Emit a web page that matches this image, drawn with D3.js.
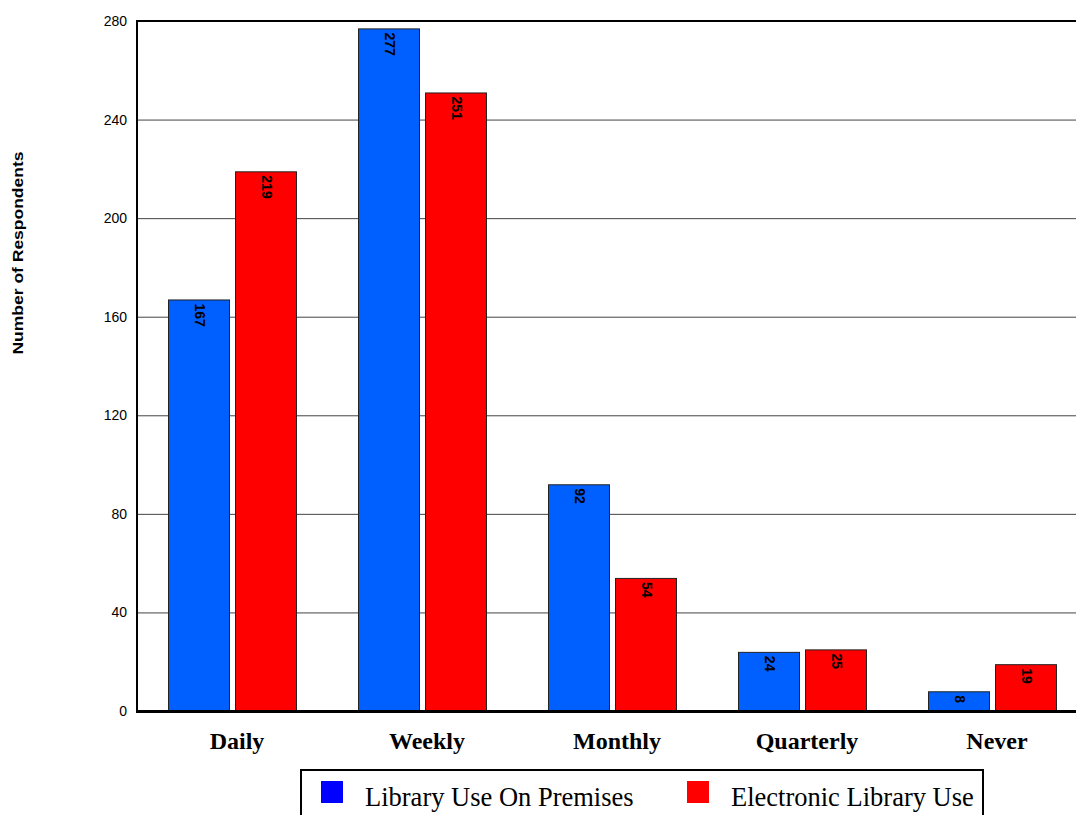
<!DOCTYPE html>
<html>
<head>
<script src="https://d3js.org/d3.v7.min.js"></script>
<style>
    body { margin: 0; background: #fff; }
    svg { display: block; }
</style>
</head>
<body>
<svg width="1076" height="815"></svg>
<script>
    // chart data
    var categories = ["Daily", "Weekly", "Monthly", "Quarterly", "Never"];
    var seriesNames = ["Library Use On Premises", "Electronic Library Use"];
    var premises = [167, 277, 92, 24, 8];
    var electronic = [219, 251, 54, 25, 19];
    var yTicks = [0, 40, 80, 120, 160, 200, 240, 280];

    var barColors = ["#0060ff", "#ff0000"];
    var legendColors = ["#0000ff", "#ff0000"];

    var svg = d3.select("svg");

    var y = d3.scaleLinear().domain([0, 280]).range([711, 21]);

    var x0 = d3.scaleBand()
        .domain(categories)
        .range([137, 1087])
        .paddingInner(0)
        .paddingOuter(0);

    var x1 = d3.scaleBand()
        .domain(seriesNames)
        .range([0, x0.bandwidth()])
        .paddingInner(0.09)
        .paddingOuter(0.463);

    var rows = categories.map(function(c, i) {
        return { cat: c, vals: [premises[i], electronic[i]] };
    });

    // gridlines
    svg.append("g")
        .selectAll("line")
        .data(yTicks.filter(function(d) { return d > 0 && d < 280; }))
        .enter().append("line")
        .attr("x1", 137)
        .attr("x2", 1076)
        .attr("y1", function(d) { return y(d) + 0.5; })
        .attr("y2", function(d) { return y(d) + 0.5; })
        .attr("stroke", "#444")
        .attr("stroke-width", 1);

    // top line
    svg.append("line")
        .attr("x1", 137).attr("x2", 1076)
        .attr("y1", y(280)).attr("y2", y(280))
        .attr("stroke", "#000")
        .attr("stroke-width", 2);

    // bars
    var groups = svg.append("g")
        .selectAll("g")
        .data(rows)
        .enter().append("g")
        .attr("transform", function(d) { return "translate(" + x0(d.cat) + ",0)"; });

    var cells = groups.selectAll("g")
        .data(function(d) {
            return d.vals.map(function(v, i) { return { key: seriesNames[i], value: v, i: i }; });
        })
        .enter().append("g");

    cells.append("rect")
        .attr("x", function(d) { return x1(d.key) + 0.5; })
        .attr("y", function(d) { return y(d.value) + 0.5; })
        .attr("width", x1.bandwidth())
        .attr("height", function(d) { return y(0) - y(d.value); })
        .attr("fill", function(d) { return barColors[d.i]; })
        .attr("stroke", "#222")
        .attr("stroke-width", 1);

    cells.append("text")
        .attr("transform", function(d) {
            return "translate(" + (x1(d.key) + x1.bandwidth() / 2 + 1) + "," + (y(d.value) + 4) + ") rotate(90)";
        })
        .attr("dy", "0.35em")
        .attr("text-anchor", "start")
        .attr("font-family", "Arial, 'Liberation Sans', sans-serif")
        .attr("font-weight", "bold")
        .attr("font-size", "14px")
        .attr("fill", "#000")
        .text(function(d) { return d.value; });

    // y axis
    var yAxis = svg.append("g")
        .attr("transform", "translate(137,0)")
        .call(d3.axisLeft(y).tickValues(yTicks).tickSize(0).tickPadding(10));
    yAxis.select(".domain").remove();
    yAxis.selectAll("text")
        .attr("font-family", "Arial, 'Liberation Sans', sans-serif")
        .attr("font-size", "14px")
        .attr("fill", "#000");

    svg.append("line")
        .attr("x1", 137).attr("x2", 137)
        .attr("y1", 20).attr("y2", 712)
        .attr("stroke", "#000")
        .attr("stroke-width", 2);

    // x axis
    svg.append("line")
        .attr("x1", 136).attr("x2", 1076)
        .attr("y1", 711.5).attr("y2", 711.5)
        .attr("stroke", "#000")
        .attr("stroke-width", 3);

    var xAxis = svg.append("g")
        .attr("transform", "translate(5,711)")
        .call(d3.axisBottom(x0).tickSize(0).tickPadding(21));
    xAxis.select(".domain").remove();
    xAxis.selectAll("text")
        .attr("font-family", "'Times New Roman', 'Liberation Serif', serif")
        .attr("font-weight", "bold")
        .attr("font-size", "24px")
        .attr("fill", "#000");

    // y title
    svg.append("text")
        .attr("transform", "translate(23,253) rotate(-90)")
        .attr("text-anchor", "middle")
        .attr("font-family", "Arial, 'Liberation Sans', sans-serif")
        .attr("font-weight", "bold")
        .attr("font-size", "15px")
        .attr("textLength", 203)
        .attr("lengthAdjust", "spacingAndGlyphs")
        .text("Number of Respondents");

    // legend
    var legend = svg.append("g");
    legend.append("rect")
        .attr("x", 301).attr("y", 770)
        .attr("width", 682).attr("height", 60)
        .attr("fill", "#fff")
        .attr("stroke", "#000")
        .attr("stroke-width", 2);

    var legendX = [321, 687];
    var items = legend.selectAll("g.item")
        .data(seriesNames)
        .enter().append("g")
        .attr("class", "item")
        .attr("transform", function(d, i) { return "translate(" + legendX[i] + ",781)"; });
    items.append("rect")
        .attr("width", 22).attr("height", 22)
        .attr("fill", function(d, i) { return legendColors[i]; });
    items.append("text")
        .attr("x", 44)
        .attr("y", 25)
        .attr("font-family", "'Times New Roman', 'Liberation Serif', serif")
        .attr("font-size", "26.5px")
        .attr("fill", "#000")
        .text(function(d) { return d; });
</script>
</body>
</html>
